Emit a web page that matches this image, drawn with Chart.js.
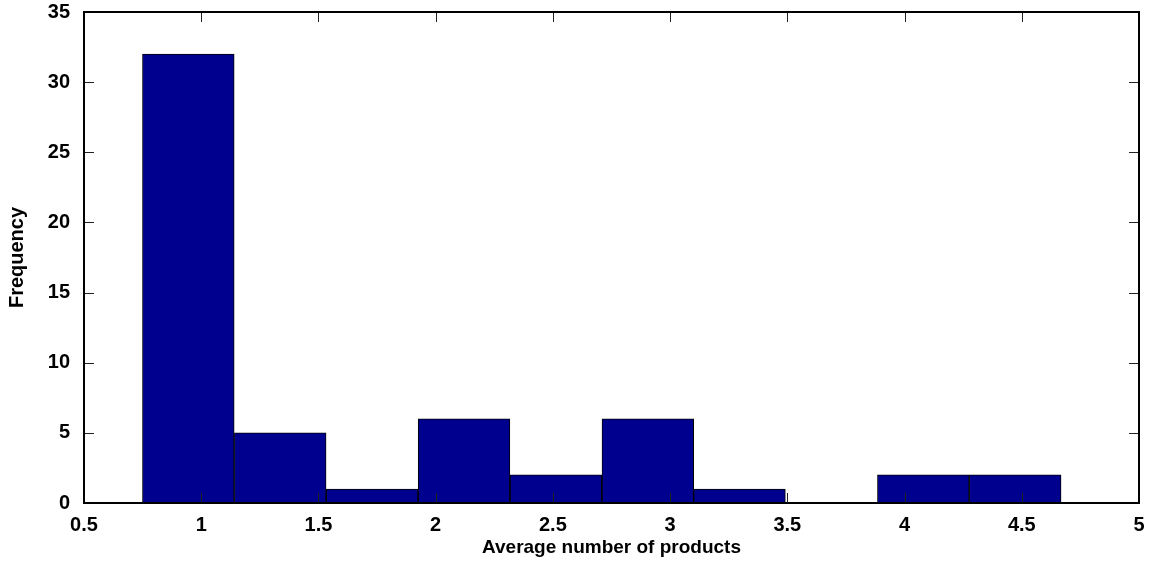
<!DOCTYPE html>
<html>
<head>
<meta charset="utf-8">
<script src="https://cdn.jsdelivr.net/npm/chart.js@4/dist/chart.umd.min.js"></script>
<style>
  html, body { margin: 0; padding: 0; background: #fff; }
  #wrap { width: 1153px; height: 562px; }
</style>
</head>
<body>
<div id="wrap"><canvas id="hist"></canvas></div>
<script>
// Histograma: centros de cada bin y frecuencias
const binCenters = [0.945, 1.337, 1.729, 2.121, 2.513, 2.905, 3.296, 3.688, 4.080, 4.472];
const counts = [32, 5, 1, 6, 2, 6, 1, 0, 2, 2];
const xTicks = [0.5, 1, 1.5, 2, 2.5, 3, 3.5, 4, 4.5, 5];
const yTicks = [0, 5, 10, 15, 20, 25, 30, 35];

const FONT = 'Liberation Sans, Arial, Helvetica, sans-serif';

// marco y ticks hacia dentro en los cuatro lados, estilo MATLAB
const frameTicks = {
  id: 'frameTicks',
  afterDraw(chart) {
    const { ctx, chartArea: a, scales } = chart;
    const len = 10;
    ctx.save();
    ctx.strokeStyle = '#222';
    ctx.lineWidth = 1;
    ctx.beginPath();
    xTicks.forEach((v) => {
      const px = Math.round(scales.x.getPixelForValue(v)) + 0.5;
      ctx.moveTo(px, a.bottom); ctx.lineTo(px, a.bottom - len);
      ctx.moveTo(px, a.top); ctx.lineTo(px, a.top + len);
    });
    yTicks.forEach((v) => {
      const py = Math.round(scales.y.getPixelForValue(v)) + 0.5;
      ctx.moveTo(a.left, py); ctx.lineTo(a.left + len, py);
      ctx.moveTo(a.right, py); ctx.lineTo(a.right - len, py);
    });
    ctx.stroke();
    ctx.strokeStyle = '#000';
    ctx.lineWidth = 2;
    ctx.strokeRect(a.left, a.top, a.right - a.left, a.bottom - a.top);
    ctx.restore();
  }
};

new Chart(document.getElementById('hist'), {
  type: 'bar',
  data: {
    datasets: [{
      label: 'Frequency',
      data: binCenters.map((c, i) => ({ x: c, y: counts[i] })),
      backgroundColor: '#00008F',
      borderColor: '#000',
      borderWidth: 1,
      borderSkipped: false,
      barPercentage: 1,
      categoryPercentage: 1
    }]
  },
  plugins: [frameTicks],
  options: {
    responsive: true,
    maintainAspectRatio: false,
    animation: false,
    layout: { padding: { top: 12, right: 14, left: 0, bottom: 0 } },
    plugins: { legend: { display: false }, tooltip: { enabled: false } },
    scales: {
      x: {
        type: 'linear',
        min: 0.5,
        max: 5,
        offset: false,
        afterBuildTicks: (s) => { s.ticks = xTicks.map((v) => ({ value: v })); },
        afterFit: (s) => { s.height = 59; s.paddingLeft = 0; s.paddingRight = 0; },
        ticks: { color: '#000', padding: 2, maxRotation: 0, autoSkip: false,
          callback: (v) => String(v),
          font: { family: FONT, size: 20, weight: 'bold' } },
        grid: { display: false },
        border: { display: false },
        title: { display: true, text: 'Average number of products', color: '#000',
          padding: { top: 0, bottom: 3 },
          font: { family: FONT, size: 19, weight: 'bold' } }
      },
      y: {
        min: 0,
        max: 35,
        afterBuildTicks: (s) => { s.ticks = yTicks.map((v) => ({ value: v })); },
        afterFit: (s) => { s.width = 84; s.paddingTop = 0; s.paddingBottom = 0; },
        ticks: { color: '#000', padding: 6,
          callback: (v) => String(v),
          font: { family: FONT, size: 20, weight: 'bold' } },
        grid: { display: false },
        border: { display: false },
        title: { display: true, text: 'Frequency', color: '#000',
          padding: { top: 5, bottom: 0 },
          font: { family: FONT, size: 20, weight: 'bold' } }
      }
    }
  }
});
</script>
</body>
</html>
